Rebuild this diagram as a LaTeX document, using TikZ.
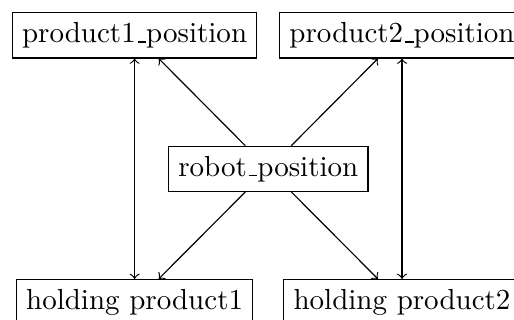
\documentclass[tikz,border=0pt]{standalone}
\usepackage{tikz}
\newcommand{\lowbar}{\leavevmode\kern.06em\vbox{\hrule width.3em}}

\begin{document}
\begin{tikzpicture}
    \def\dx{46.1pt}
    \def\dy{46pt}
    \def\sh{8.3pt}
    \tikzset{box/.style = {draw, rectangle, inner sep=3.33pt}}
    % frame
    \useasboundingbox (-92.5pt,12.2pt+46pt) rectangle (84.7pt,-52.1pt);
    % centro
    \node [box] (robot) at (0,0) {robot\lowbar position};
    % sopra
    \node [box] (prod1) at (-\dx,\dy) {product1\lowbar position};
    \node [box] (prod2) at (\dx,\dy) {product2\lowbar position};
    % sotto
    \node [box] (hold1) at (-\dx,-\dy) {holding product1};
    \node [box] (hold2) at (\dx,-\dy) {holding product2};

    \draw [<->] (prod1) -- (hold1);
    \draw [<->] (prod2) -- (hold2);
    \draw [->] (robot) -- ([xshift=\sh]prod1.south);
    \draw [->] (robot) -- ([xshift=-\sh]prod2.south);
    \draw [->] (robot) -- ([xshift=\sh]hold1.north);
    \draw [->] (robot) -- ([xshift=-\sh]hold2.north);
\end{tikzpicture}
\end{document}
